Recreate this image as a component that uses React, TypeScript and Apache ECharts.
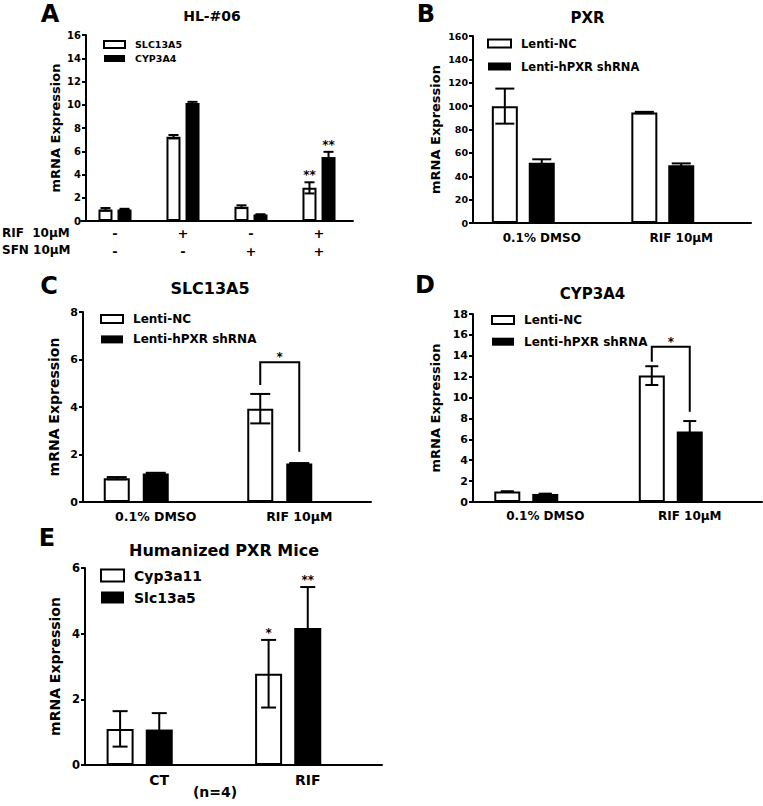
import React, { useEffect, useRef } from 'react';
import * as echarts from 'echarts';

const FONT = "'DejaVu Sans', sans-serif";

// ---- Panel A: HL-#06 ----
const aRif = ['-', '+', '-', '+'];
const aSfn = ['-', '-', '+', '+'];
const aSlc = [1.0, 7.25, 1.23, 2.85];
const aSlcErr = [0.12, 0.15, 0.12, 0.48];
const aCyp = [1.0, 10.15, 0.55, 5.5];
const aCypErr = [0.05, 0.1, 0.03, 0.45];
const aSlcSig = ['', '', '', '**'];
const aCypSig = ['', '', '', '**'];

// ---- Panel B: PXR ----
const bCats = ['0.1% DMSO', 'RIF 10\u03bcM'];
const bNc = [100, 94.5];
const bNcErr = [15, 0.6];
const bSh = [51.5, 49.5];
const bShErr = [3, 1.5];

// ---- Panel C: SLC13A5 ----
const cCats = ['0.1% DMSO', 'RIF 10\u03bcM'];
const cNc = [1.0, 3.93];
const cNcErr = [0.05, 0.62];
const cSh = [1.2, 1.62];
const cShErr = [0.03, 0.02];
const cBracket = [1, 5.88, 4.93, 2.12];

// ---- Panel D: CYP3A4 ----
const dCats = ['0.1% DMSO', 'RIF 10\u03bcM'];
const dNc = [1.0, 12.1];
const dNcErr = [0.03, 0.9];
const dSh = [0.77, 6.75];
const dShErr = [0.03, 1.0];
const dBracket = [1, 14.87, 13.43, 8.65];

// ---- Panel E: Humanized PXR Mice ----
const eCats = ['CT', 'RIF'];
const eCyp = [1.1, 2.78];
const eCypErr = [0.54, 1.03];
const eSlc = [1.08, 4.17];
const eSlcErr = [0.5, 1.25];
const eCypSig = ['', '*'];
const eSlcSig = ['', '**'];

const bold = (size: number) => ({ color: '#000', fontWeight: 'bold' as const, fontFamily: FONT, fontSize: size });

function yAx(gridIndex: number, max: number, interval: number, labelSize: number, nameSize: number, nameGap: number, offset: number) {
  return {
    type: 'value', gridIndex, min: 0, max, interval, offset,
    name: 'mRNA Expression', nameLocation: 'middle', nameGap,
    nameTextStyle: bold(nameSize),
    axisLine: { show: true, lineStyle: { color: '#000', width: 2 } },
    axisTick: { show: true, length: 4, lineStyle: { color: '#000', width: 2 } },
    splitLine: { show: false },
    axisLabel: { ...bold(labelSize), margin: 5 },
  };
}

function xAx(gridIndex: number, data: string[], labelSize: number, margin: number, lineHeight?: number) {
  return {
    type: 'category', gridIndex, data,
    axisLine: { show: true, onZero: false, lineStyle: { color: '#000', width: 2 } },
    axisTick: { show: false },
    splitLine: { show: false },
    axisLabel: { ...bold(labelSize), margin, interval: 0, lineHeight },
  };
}

function bar(idx: number, name: string, data: any[], white: boolean, width: number, gap: string) {
  return {
    type: 'bar', name, xAxisIndex: idx, yAxisIndex: idx, data, barWidth: width, barGap: gap,
    itemStyle: white ? { color: '#fff', borderColor: '#000', borderWidth: 2 } : { color: '#000' },
    z: 2,
  };
}

function errs(idx: number, means: number[], errors: number[], offset: number, capW: number, sigs?: string[]) {
  return {
    type: 'custom', xAxisIndex: idx, yAxisIndex: idx, z: 4,
    encode: { x: 0, y: 1 },
    data: means.map((m, i) => [i, m, errors[i]]),
    renderItem: (params: any, api: any) => {
      const i = api.value(0), m = api.value(1), e = api.value(2);
      const x = api.coord([i, m])[0] + offset;
      const hi = api.coord([i, m + e])[1];
      const lo = api.coord([i, Math.max(0, m - e)])[1];
      const sty = { stroke: '#000', lineWidth: 2 };
      const children: any[] = [];
      if (e > 0) {
        children.push({ type: 'line', shape: { x1: x, y1: hi, x2: x, y2: lo }, style: sty });
        children.push({ type: 'line', shape: { x1: x - capW / 2, y1: hi, x2: x + capW / 2, y2: hi }, style: sty });
        children.push({ type: 'line', shape: { x1: x - capW / 2, y1: lo, x2: x + capW / 2, y2: lo }, style: sty });
      }
      const s = sigs ? sigs[params.dataIndex] : '';
      if (s) {
        children.push({
          type: 'text', x, y: hi - 7,
          style: { text: s, font: `bold 12px ${FONT}`, fill: '#000', textAlign: 'center', textVerticalAlign: 'middle' },
        });
      }
      return { type: 'group', children };
    },
  };
}

function bracket(idx: number, b: number[], leftOff: number, rightOff: number, label: string) {
  return {
    type: 'custom', xAxisIndex: idx, yAxisIndex: idx, z: 4,
    encode: { x: 0, y: 1 },
    data: [b],
    renderItem: (params: any, api: any) => {
      const cat = api.value(0);
      const xc = api.coord([cat, 0])[0];
      const yTop = api.coord([cat, api.value(1)])[1];
      const yL = api.coord([cat, api.value(2)])[1];
      const yR = api.coord([cat, api.value(3)])[1];
      const xl = xc + leftOff, xr = xc + rightOff;
      return {
        type: 'group', children: [
          { type: 'polyline', shape: { points: [[xl, yL], [xl, yTop], [xr, yTop], [xr, yR]] }, style: { stroke: '#000', fill: null, lineWidth: 2 } },
          { type: 'text', x: (xl + xr) / 2, y: yTop - 5, style: { text: label, font: `bold 12px ${FONT}`, fill: '#000', textAlign: 'center', textVerticalAlign: 'middle' } },
        ],
      };
    },
  };
}

function legend(left: number, top: number, names: string[], iw: number, ih: number, gap: number, size: number) {
  return {
    left, top, orient: 'vertical', padding: 0, itemWidth: iw, itemHeight: ih, itemGap: gap,
    selectedMode: false, icon: 'rect',
    textStyle: { ...bold(size), padding: [0, 0, 0, 5] },
    data: [
      { name: names[0], icon: 'rect', itemStyle: { color: '#fff', borderColor: '#000', borderWidth: 2 } },
      { name: names[1], icon: 'rect', itemStyle: { color: '#000', borderWidth: 0 } },
    ],
  };
}

function txt(text: string, x: number, y: number, size: number, align = 'center') {
  return {
    type: 'text', x, y, silent: true,
    style: { text, font: `bold ${size}px ${FONT}`, fill: '#000', textAlign: align, textVerticalAlign: 'middle' },
  };
}

function buildOption() {
  const aStep = 14 * 1.36;
  const bStep = 26 * 1.42;
  const cStep = 26 * 1.5;
  const dStep = 26 * 1.46;
  const eStep = 27 * 1.45;
  return {
    animation: false,
    backgroundColor: '#fff',
    grid: [
      { left: 81, top: 35, width: 272, height: 186 },
      { left: 472, top: 36, width: 279, height: 187 },
      { left: 84, top: 312, width: 287, height: 190 },
      { left: 473, top: 314, width: 289, height: 188 },
      { left: 85, top: 568, width: 297, height: 197 },
    ],
    xAxis: [
      xAx(0, aRif.map((r, i) => r + '\n' + aSfn[i]), 13, 3, 18),
      xAx(1, bCats, 12, 9),
      xAx(2, cCats, 12.5, 8),
      xAx(3, dCats, 12, 8),
      xAx(4, eCats, 14, 8),
    ],
    yAxis: [
      yAx(0, 16, 2, 10, 13, 24, -5),
      yAx(1, 160, 20, 9.5, 13, 31, -1),
      yAx(2, 8, 2, 11, 14, 22, 1),
      yAx(3, 18, 2, 11, 13, 31, 0),
      yAx(4, 6, 2, 11.5, 14, 23.5, 0),
    ],
    legend: [
      legend(103, 39.5, ['SLC13A5', 'CYP3A4'], 21, 7, 4, 9.5),
      legend(487, 37.5, ['Lenti-NC', 'Lenti-hPXR shRNA'], 23, 8, 11, 11.5),
      legend(100, 313, ['Lenti-NC', 'Lenti-hPXR shRNA'], 22, 8, 8.4, 12),
      legend(491, 314, ['Lenti-NC', 'Lenti-hPXR shRNA'], 22, 8, 9.7, 12),
      legend(100, 568.5, ['Cyp3a11', 'Slc13a5'], 23, 12, 8, 14),
    ],
    series: [
      bar(0, 'SLC13A5', aSlc, true, 14, '36%'),
      bar(0, 'CYP3A4', aCyp, false, 14, '36%'),
      errs(0, aSlc, aSlcErr, -aStep / 2, 10, aSlcSig),
      errs(0, aCyp, aCypErr, aStep / 2, 10, aCypSig),

      bar(1, 'Lenti-NC', bNc, true, 26, '42%'),
      bar(1, 'Lenti-hPXR shRNA', bSh, false, 26, '42%'),
      bar(1, 'slotB', ['-', '-'], false, 26, '42%'),
      errs(1, bNc, bNcErr, -bStep, 19),
      errs(1, bSh, bShErr, 0, 19),

      bar(2, 'Lenti-NC', cNc, true, 26, '50%'),
      bar(2, 'Lenti-hPXR shRNA', cSh, false, 26, '50%'),
      bar(2, 'slotC', ['-', '-'], false, 26, '50%'),
      errs(2, cNc, cNcErr, -cStep, 20),
      errs(2, cSh, cShErr, 0, 20),
      bracket(2, cBracket, -cStep, 0, '*'),

      bar(3, 'Lenti-NC', dNc, true, 26, '46%'),
      bar(3, 'Lenti-hPXR shRNA', dSh, false, 26, '46%'),
      bar(3, 'slotD', ['-', '-'], false, 26, '46%'),
      errs(3, dNc, dNcErr, -dStep, 13),
      errs(3, dSh, dShErr, 0, 13),
      bracket(3, dBracket, -dStep, 0, '*'),

      bar(4, 'Cyp3a11', eCyp, true, 27, '45%'),
      bar(4, 'Slc13a5', eSlc, false, 27, '45%'),
      bar(4, 'slotE', ['-', '-'], false, 27, '45%'),
      errs(4, eCyp, eCypErr, -eStep, 15, eCypSig),
      errs(4, eSlc, eSlcErr, 0, 15, eSlcSig),
    ],
    graphic: [
      txt('A', 50, 14, 24),
      txt('HL-#06', 212, 15.5, 14),
      txt('B', 426, 13.5, 24),
      txt('PXR', 587.5, 18, 15),
      txt('C', 49, 285.5, 24),
      txt('SLC13A5', 210, 288.5, 16),
      txt('D', 425, 285, 24),
      txt('CYP3A4', 592.5, 293.5, 15),
      txt('E', 47, 538, 24),
      txt('Humanized PXR Mice', 224, 550.5, 16),
      txt('(n=4)', 215, 792, 14),
      txt('RIF  10\u03bcM', 2, 232.5, 12, 'left'),
      txt('SFN 10\u03bcM', 2, 250, 12, 'left'),
    ],
  };
}

export default function App() {
  const ref = useRef<HTMLDivElement>(null);
  useEffect(() => {
    const chart = echarts.init(ref.current!, null, { renderer: 'svg' });
    chart.setOption(buildOption() as any);
    return () => chart.dispose();
  }, []);
  return (
    <div
      ref={ref}
      style={{ position: 'fixed', left: 0, top: 0, width: 763, height: 806, background: '#fff' }}
    />
  );
}
